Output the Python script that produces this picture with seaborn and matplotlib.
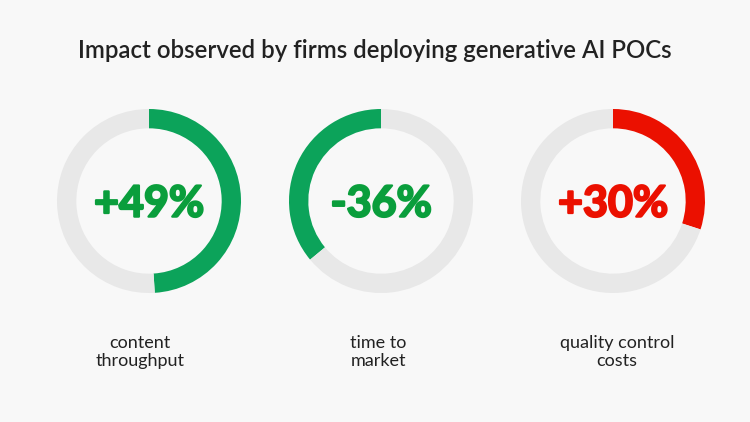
import matplotlib
matplotlib.use("Agg")
import matplotlib.pyplot as plt
import matplotlib.patheffects as pe
import seaborn as sns

# data
labels = ["content\nthroughput", "time to\nmarket", "quality control\ncosts"]
values = [49, 36, 30]
value_text = ["+49%", "-36%", "+30%"]
clockwise = [True, False, True]
arc_colors = ["#0ca35a", "#0ca35a", "#eb1000"]
text_colors = ["#0a9e3c", "#0a9e3c", "#eb1000"]

sns.set_theme(style="white")
plt.rcParams["font.family"] = ["Lato", "DejaVu Sans"]

bg = "#f8f8f8"
fig = plt.figure(figsize=(7.5, 4.22), dpi=100, facecolor=bg)

W, H = 750, 422
r_px = 92
centers_x = [149, 381, 613]
label_x = [140, 378, 617]
center_y = 201

for i in range(len(values)):
    cx = centers_x[i]
    ax = fig.add_axes([(cx - r_px) / W, (H - center_y - r_px) / H, 2 * r_px / W, 2 * r_px / H])
    ax.set_facecolor(bg)
    ax.pie([values[i], 100 - values[i]], colors=[arc_colors[i], "#e8e8e8"],
           startangle=90, counterclock=not clockwise[i], radius=1,
           wedgeprops=dict(width=0.21, linewidth=0))
    ax.set_xlim(-1, 1)
    ax.set_ylim(-1, 1)
    ax.axis("off")
    ax.text(0, -0.17, value_text[i], ha="center", va="baseline", fontsize=31,
            fontweight="bold", color=text_colors[i],
            path_effects=[pe.withStroke(linewidth=1.6, foreground=text_colors[i])])
    fig.text(label_x[i] / W, 1 - 352 / H, labels[i], ha="center", va="center",
             fontsize=13, color="#222222", linespacing=1.2)

fig.text(0.5, 1 - 50 / H, "Impact observed by firms deploying generative AI POCs",
         ha="center", va="center", fontsize=17.3, color="#222222", fontweight="semibold")

fig.savefig("out.png", dpi=100, facecolor=bg)
